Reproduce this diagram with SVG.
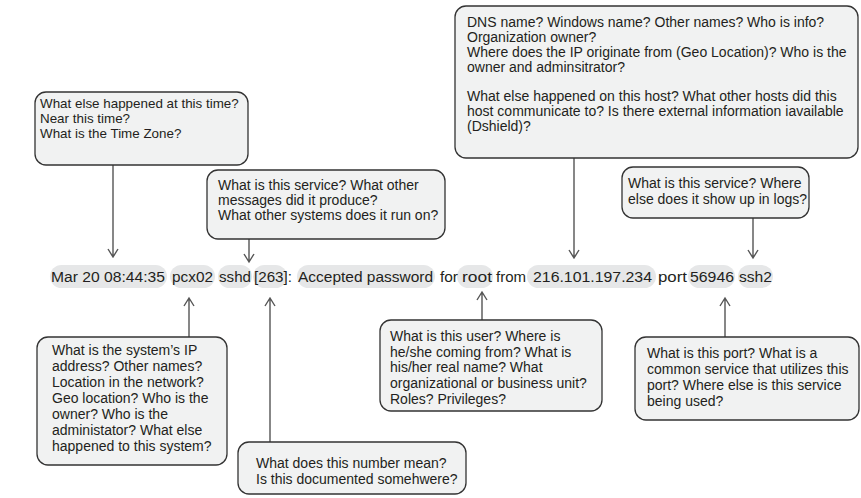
<svg xmlns="http://www.w3.org/2000/svg" width="861" height="498" viewBox="0 0 861 498">
<style>
.box{fill:#f1f2f2;stroke:#333;stroke-width:1.3}
.pill{fill:#e6e7e8}
text{font-family:"Liberation Sans",Arial,sans-serif;fill:#231f20}
.q{font-size:14px}
.log{font-size:15.5px}
.c{fill:none;stroke:#555;stroke-width:1.4}
</style>
<rect width="861" height="498" fill="#fff"/>
<g id="logline">
<rect class="pill" x="50" y="265" width="117" height="23" rx="11.5"/>
<rect class="pill" x="170" y="265" width="45" height="23" rx="11.5"/>
<rect class="pill" x="218" y="265" width="34" height="23" rx="11.5"/>
<rect class="pill" x="253" y="265" width="34" height="23" rx="11.5"/>
<rect class="pill" x="297" y="265" width="138" height="23" rx="11.5"/>
<rect class="pill" x="457" y="265" width="36" height="23" rx="11.5"/>
<rect class="pill" x="527" y="265" width="129" height="23" rx="11.5"/>
<rect class="pill" x="688" y="265" width="47" height="23" rx="11.5"/>
<rect class="pill" x="738" y="265" width="35" height="23" rx="11.5"/>
<text class="log" x="51" y="282" textLength="114" lengthAdjust="spacingAndGlyphs">Mar 20 08:44:35</text>
<text class="log" x="172" y="282" textLength="41" lengthAdjust="spacingAndGlyphs">pcx02</text>
<text class="log" x="219" y="282" textLength="32" lengthAdjust="spacingAndGlyphs">sshd</text>
<text class="log" x="254" y="282" textLength="38" lengthAdjust="spacingAndGlyphs">[263]:</text>
<text class="log" x="298" y="282" textLength="135" lengthAdjust="spacingAndGlyphs">Accepted password</text>
<text class="log" x="440" y="282" textLength="18" lengthAdjust="spacingAndGlyphs">for</text>
<text class="log" x="462" y="282" textLength="30" lengthAdjust="spacingAndGlyphs">root</text>
<text class="log" x="496" y="282" textLength="30" lengthAdjust="spacingAndGlyphs">from</text>
<text class="log" x="533" y="282" textLength="119" lengthAdjust="spacingAndGlyphs">216.101.197.234</text>
<text class="log" x="658" y="282" textLength="29" lengthAdjust="spacingAndGlyphs">port</text>
<text class="log" x="690" y="282" textLength="44" lengthAdjust="spacingAndGlyphs">56946</text>
<text class="log" x="739" y="282" textLength="33" lengthAdjust="spacingAndGlyphs">ssh2</text>
</g>
<g id="connectors">
<path class="c" d="M113,165V257M108,249L113,257L118,249"/>
<path class="c" d="M249,239V262M244,254L249,262L254,254"/>
<path class="c" d="M574,158V258M569,250L574,258L579,250"/>
<path class="c" d="M753,218V258M748,250L753,258L758,250"/>
<path class="c" d="M189,337V298M184,306L189,298L194,306"/>
<path class="c" d="M270,442V298M265,306L270,298L275,306"/>
<path class="c" d="M482,320V292M477,300L482,292L487,300"/>
<path class="c" d="M725,337V298M720,306L725,298L730,306"/>
</g>
<g id="time">
<rect class="box" x="35" y="92" width="213" height="73" rx="11"/>
<text class="q" style="font-size:13.4px"><tspan x="40" y="108">What else happened at this time?</tspan><tspan x="40" y="123">Near this time?</tspan><tspan x="40" y="138">What is the Time Zone?</tspan></text>
</g>
<g id="service">
<rect class="box" x="207" y="170" width="238" height="69" rx="11"/>
<text class="q"><tspan x="218" y="190">What is this service? What other</tspan><tspan x="218" y="205">messages did it produce?</tspan><tspan x="218" y="220">What other systems does it run on?</tspan></text>
</g>
<g id="ipinfo">
<rect class="box" x="455" y="6" width="403" height="152" rx="11"/>
<text class="q"><tspan x="467" y="27">DNS name? Windows name? Other names? Who is info?</tspan><tspan x="467" y="42">Organization owner?</tspan><tspan x="467" y="57">Where does the IP originate from (Geo Location)? Who is the</tspan><tspan x="467" y="72">owner and adminsitrator?</tspan><tspan x="467" y="101">What else happened on this host? What other hosts did this</tspan><tspan x="467" y="116">host communicate to? Is there external information iavailable</tspan><tspan x="467" y="131">(Dshield)?</tspan></text>
</g>
<g id="ssh2">
<rect class="box" x="622" y="167" width="187" height="51" rx="11"/>
<text class="q"><tspan x="628" y="188">What is this service? Where</tspan><tspan x="628" y="204">else does it show up in logs?</tspan></text>
</g>
<g id="system">
<rect class="box" x="37" y="337" width="190" height="128" rx="11"/>
<text class="q"><tspan x="52" y="355">What is the system’s IP</tspan><tspan x="52" y="371">address? Other names?</tspan><tspan x="52" y="387">Location in the network?</tspan><tspan x="52" y="403">Geo location? Who is the</tspan><tspan x="52" y="419">owner? Who is the</tspan><tspan x="52" y="435">administator? What else</tspan><tspan x="52" y="451">happened to this system?</tspan></text>
</g>
<g id="number">
<rect class="box" x="238" y="442" width="228" height="52" rx="11"/>
<text class="q"><tspan x="256" y="468">What does this number mean?</tspan><tspan x="256" y="484">Is this documented somehwere?</tspan></text>
</g>
<g id="user">
<rect class="box" x="380" y="320" width="222" height="91" rx="11"/>
<text class="q"><tspan x="390" y="341">What is this user? Where is</tspan><tspan x="390" y="357">he/she coming from? What is</tspan><tspan x="390" y="372">his/her real name? What</tspan><tspan x="390" y="388">organizational or business unit?</tspan><tspan x="390" y="404">Roles? Privileges?</tspan></text>
</g>
<g id="port">
<rect class="box" x="635" y="337" width="224" height="83" rx="11"/>
<text class="q"><tspan x="647" y="358">What is this port? What is a</tspan><tspan x="647" y="374">common service that utilizes this</tspan><tspan x="647" y="390">port? Where else is this service</tspan><tspan x="647" y="406">being used?</tspan></text>
</g>
</svg>
